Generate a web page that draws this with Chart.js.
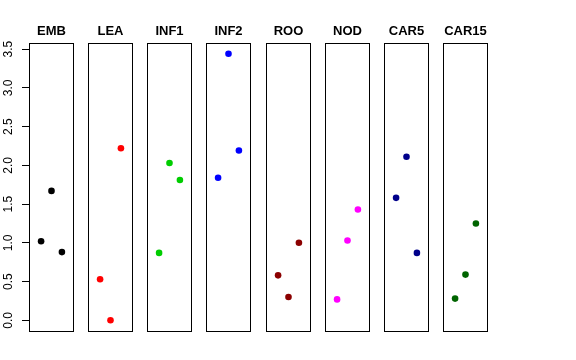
<!DOCTYPE html>
<html>
<head>
<meta charset="utf-8">
<script src="https://cdn.jsdelivr.net/npm/chart.js@4"></script>
<style>
  body { margin: 0; background: #fff; }
  #wrap { position: relative; width: 576px; height: 360px; }
  #wrap canvas { position: absolute; top: 0; }
</style>
</head>
<body>
<div id="wrap"></div>
<script>
// panel names and colours
const panels = ['EMB', 'LEA', 'INF1', 'INF2', 'ROO', 'NOD', 'CAR5', 'CAR15'];
const colors = ['#000000', '#FF0000', '#00CD00', '#0000FF', '#8B0000', '#FF00FF', '#00008B', '#006400'];

// three values per panel, plotted at x = 1, 2, 3
const xPos = [1, 2, 3];
const EMB = [1.02, 1.67, 0.88];
const LEA = [0.53, 0.00, 2.22];
const INF1 = [0.87, 2.03, 1.81];
const INF2 = [1.84, 3.44, 2.19];
const ROO = [0.58, 0.30, 1.00];
const NOD = [0.27, 1.03, 1.43];
const CAR5 = [1.58, 2.11, 0.87];
const CAR15 = [0.28, 0.59, 1.25];
const values = [EMB, LEA, INF1, INF2, ROO, NOD, CAR5, CAR15];

const yTicks = [0, 0.5, 1, 1.5, 2, 2.5, 3, 3.5];

// box around the plot area + panel title centred over it
const boxPlugin = {
  id: 'box',
  afterDraw(chart, args, opts) {
    const a = chart.chartArea;
    const c = chart.ctx;
    c.save();
    c.strokeStyle = '#000';
    c.lineWidth = 1;
    c.strokeRect(Math.round(a.left) + 0.5, Math.round(a.top) + 0.5,
      Math.round(a.right - a.left) - 1, Math.round(a.bottom - a.top));
    c.fillStyle = '#000';
    c.font = 'bold 13px "Liberation Sans", Arial, sans-serif';
    c.textAlign = 'center';
    c.textBaseline = 'alphabetic';
    c.fillText(opts.text, (a.left + a.right) / 2, 34.5);
    c.restore();
  }
};

const wrap = document.getElementById('wrap');
const panelW = 45;
const gap = 59.15;
const firstLeft = 29;

panels.forEach((name, i) => {
  const first = i === 0;
  const left = firstLeft + i * gap;
  const canvas = document.createElement('canvas');
  const cLeft = first ? 0 : Math.round(left) - 10;
  const cWidth = first ? Math.round(left + panelW) + 10 : panelW + 20;
  canvas.width = cWidth;
  canvas.height = 360;
  canvas.style.left = cLeft + 'px';
  canvas.style.width = cWidth + 'px';
  canvas.style.height = '360px';
  wrap.appendChild(canvas);

  new Chart(canvas, {
    type: 'scatter',
    data: {
      datasets: [{
        data: values[i].map((v, k) => ({ x: xPos[k], y: v })),
        backgroundColor: colors[i],
        borderColor: colors[i],
        pointRadius: 3.3,
        pointBorderWidth: 0
      }]
    },
    options: {
      responsive: false,
      animation: false,
      events: [],
      layout: { padding: { left: first ? 0 : 10, right: 10, top: 43, bottom: 29 } },
      plugins: {
        legend: { display: false },
        tooltip: { enabled: false },
        title: { display: false },
        box: { text: name }
      },
      scales: {
        x: {
          type: 'linear',
          min: -0.16,
          max: 4.16,
          display: false
        },
        y: {
          type: 'linear',
          min: -0.138,
          max: 3.578,
          display: first,
          afterBuildTicks: s => { s.ticks = yTicks.map(v => ({ value: v })); },
          afterFit: s => { if (first) s.width = 29; },
          grid: { drawOnChartArea: false, tickLength: 7, color: '#000', tickColor: '#000' },
          border: { display: false },
          ticks: {
            minRotation: 90,
            maxRotation: 90,
            crossAlign: 'center',
            padding: 5,
            color: '#000',
            font: { family: 'Liberation Sans', size: 12 },
            callback: v => v.toFixed(1)
          }
        }
      }
    },
    plugins: [boxPlugin]
  });
});
</script>
</body>
</html>
